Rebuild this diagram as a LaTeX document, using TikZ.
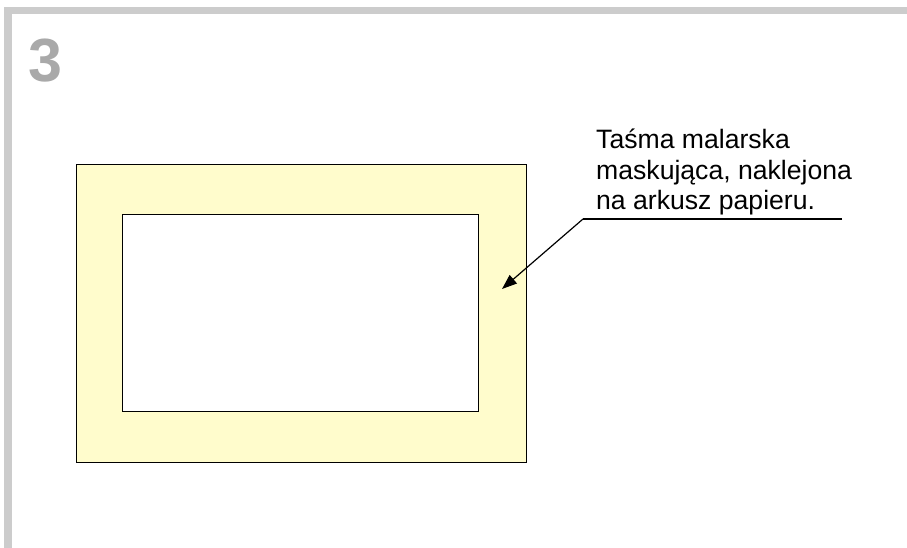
\documentclass[tikz,border=0pt]{standalone}
\usepackage{fontspec}
\setmainfont{Liberation Sans}
\usetikzlibrary{arrows.meta}
\definecolor{bargrey}{HTML}{CCCCCC}
\definecolor{numgrey}{HTML}{A9A9A9}
\definecolor{tape}{HTML}{FFFCCC}
\begin{document}
\begin{tikzpicture}[x=1pt,y=-1pt,
  bar/.style={fill=bargrey,draw=none},
  frame/.style={draw=black,line width=1.1pt},
  lbl/.style={anchor=base west,inner sep=0pt,font=\fontsize{26.6}{30.7}\selectfont},
  leader/.style={draw=black,line width=1.2pt}]
\useasboundingbox (0,0) rectangle (907,548);
\fill[bar] (4,7) rectangle (907,14);
\fill[bar] (4,7) rectangle (12,548);
\node[anchor=north west,inner sep=0pt,text=numgrey,font=\fontsize{61}{61}\selectfont\bfseries] (num) at (28,39) {3};
\node[frame,fill=tape,minimum width=450,minimum height=298,inner sep=0pt,anchor=north west] (outer) at (76,164) {};
\node[frame,fill=white,minimum width=356,minimum height=197,inner sep=0pt,anchor=north west] (inner) at (122,214) {};
\node[lbl] (label) at (596,148.5) {\vtop{\baselineskip=30.7pt\hbox{Taśma malarska}\hbox{maskująca, naklejona}\hbox{na arkusz papieru.}}};
\coordinate (uend) at (842,219);
\coordinate (ustart) at (583,219);
\coordinate (tip) at (502,289);
\draw[leader] (uend) -- (ustart);
\draw[leader,-{Triangle[length=15pt,width=11pt]}] (ustart) -- (tip);
\end{tikzpicture}
\end{document}
